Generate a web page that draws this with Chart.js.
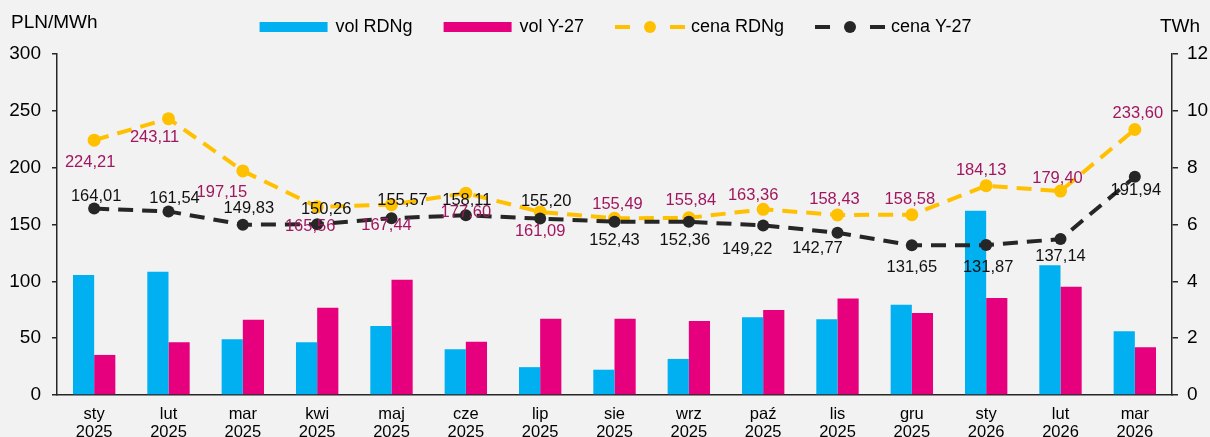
<!DOCTYPE html>
<html>
<head>
<meta charset="utf-8">
<script src="https://cdn.jsdelivr.net/npm/chart.js@4.4.1/dist/chart.umd.min.js"></script>
<style>
  body { margin: 0; background: #f2f2f2; }
  #wrap { width: 1210px; height: 437px; position: relative; }
</style>
</head>
<body>
<div id="wrap"><canvas id="chart"></canvas></div>
<script>
// data
const months = [
  ["sty", "2025"], ["lut", "2025"], ["mar", "2025"], ["kwi", "2025"],
  ["maj", "2025"], ["cze", "2025"], ["lip", "2025"], ["sie", "2025"],
  ["wrz", "2025"], ["paź", "2025"], ["lis", "2025"], ["gru", "2025"],
  ["sty", "2026"], ["lut", "2026"], ["mar", "2026"],
];
const volRDNg = [4.22, 4.34, 1.96, 1.86, 2.43, 1.61, 0.98, 0.89, 1.27, 2.74, 2.67, 3.18, 6.48, 4.57, 2.24];
const volY27 = [1.41, 1.86, 2.65, 3.07, 4.06, 1.87, 2.68, 2.68, 2.6, 2.99, 3.4, 2.89, 3.41, 3.81, 1.68];
const cenaRDNg = [224.21, 243.11, 197.15, 165.56, 167.44, 177.6, 161.09, 155.49, 155.84, 163.36, 158.43, 158.58, 184.13, 179.4, 233.6];
const cenaY27 = [164.01, 161.54, 149.83, 150.26, 155.57, 158.11, 155.2, 152.43, 152.36, 149.22, 142.77, 131.65, 131.87, 137.14, 191.94];
const priceTicks = [0, 50, 100, 150, 200, 250, 300];
const volTicks = [0, 2, 4, 6, 8, 10, 12];

// where each value label sits, relative to its point (dx, dy)
const labelOffRDNg = [
  [-4, 22], [-14, 19], [-21, 22], [-7, 20], [-5, 21], [0, 19], [0, 20],
  [3, -14], [2, -17], [-10, -14], [-3, -15], [-2, -15], [-5, -15], [-3, -13], [3, -16],
];
const labelOffY27 = [
  [2, -12], [6, -13], [6, -16], [9, -15], [11, -18], [1, -15], [6, -17],
  [0, 19], [-4, 19], [-16, 24], [-20, 16], [0, 22], [2, 22], [0, 17], [1, 14],
];

const FONT = "'Liberation Sans', Arial, sans-serif";
const CYAN = "#00b0f0";
const MAGENTA = "#e6007e";
const YELLOW = "#ffc000";
const DARK = "#262626";
const LABEL_MAG = "#a0175f";

const fmt = (v) => v.toFixed(2).replace(".", ",");

// value labels next to the line points
const valueLabels = {
  id: "valueLabels",
  afterDatasetsDraw(chart) {
    const ctx = chart.ctx;
    ctx.save();
    ctx.font = "16.5px " + FONT;
    ctx.textAlign = "center";
    ctx.textBaseline = "middle";
    chart.data.datasets.forEach((ds, i) => {
      if (!ds.labelOffsets) return;
      const meta = chart.getDatasetMeta(i);
      ctx.fillStyle = ds.labelColor;
      meta.data.forEach((pt, j) => {
        const off = ds.labelOffsets[j];
        ctx.fillText(fmt(ds.data[j]), pt.x + off[0], pt.y + off[1]);
      });
    });
    ctx.restore();
  },
};

// legend and unit titles
const extras = {
  id: "extras",
  afterDraw(chart) {
    const ctx = chart.ctx;
    const area = chart.chartArea;
    ctx.save();
    ctx.fillStyle = "#000";
    ctx.textBaseline = "middle";
    ctx.font = "19px " + FONT;
    ctx.textAlign = "left";
    ctx.fillText("PLN/MWh", 11, 23);
    ctx.fillText("TWh", 1160, 27);

    ctx.font = "18px " + FONT;
    const items = [
      { text: "vol RDNg", kind: "bar", color: CYAN },
      { text: "vol Y-27", kind: "bar", color: MAGENTA },
      { text: "cena RDNg", kind: "line", color: YELLOW },
      { text: "cena Y-27", kind: "line", color: DARK },
    ];
    const symW = 69, textGap = 7, itemGap = 31;
    let total = 0;
    items.forEach((it, k) => {
      it.w = ctx.measureText(it.text).width;
      total += symW + textGap + it.w + (k < items.length - 1 ? itemGap : 0);
    });
    let x = (area.left + area.right) / 2 - total / 2 + 1;
    const cy = 27;
    items.forEach((it) => {
      if (it.kind === "bar") {
        ctx.fillStyle = it.color;
        ctx.fillRect(x, cy - 5, 68, 10);
      } else {
        ctx.strokeStyle = it.color;
        ctx.lineWidth = 4;
        ctx.beginPath();
        ctx.moveTo(x, cy); ctx.lineTo(x + 15, cy);
        ctx.moveTo(x + 55, cy); ctx.lineTo(x + 70, cy);
        ctx.stroke();
        ctx.fillStyle = it.color;
        ctx.beginPath();
        ctx.arc(x + 35, cy, 6, 0, Math.PI * 2);
        ctx.fill();
      }
      ctx.fillStyle = "#000";
      ctx.fillText(it.text, x + symW + textGap, cy);
      x += symW + textGap + it.w + itemGap;
    });
    ctx.restore();
  },
};

const ctx = document.getElementById("chart").getContext("2d");
new Chart(ctx, {
  type: "bar",
  data: {
    labels: months,
    datasets: [
      {
        type: "line",
        label: "cena Y-27",
        data: cenaY27,
        yAxisID: "yPrice",
        borderColor: DARK,
        backgroundColor: DARK,
        borderWidth: 4,
        borderDash: [15, 9],
        pointRadius: 6,
        pointBorderWidth: 0,
        tension: 0,
        order: 0,
        labelColor: "#111",
        labelOffsets: labelOffY27,
      },
      {
        type: "line",
        label: "cena RDNg",
        data: cenaRDNg,
        yAxisID: "yPrice",
        borderColor: YELLOW,
        backgroundColor: YELLOW,
        borderWidth: 4,
        borderDash: [15, 9],
        pointRadius: 6.5,
        pointBorderWidth: 0,
        tension: 0,
        order: 1,
        labelColor: LABEL_MAG,
        labelOffsets: labelOffRDNg,
      },
      {
        label: "vol RDNg",
        data: volRDNg,
        yAxisID: "yVol",
        backgroundColor: CYAN,
        categoryPercentage: 0.57,
        barPercentage: 1,
        order: 2,
      },
      {
        label: "vol Y-27",
        data: volY27,
        yAxisID: "yVol",
        backgroundColor: MAGENTA,
        categoryPercentage: 0.57,
        barPercentage: 1,
        order: 2,
      },
    ],
  },
  options: {
    responsive: true,
    maintainAspectRatio: false,
    animation: false,
    layout: { padding: { top: 54, left: 0, right: 0, bottom: 0 } },
    plugins: {
      legend: { display: false },
      tooltip: { enabled: false },
    },
    scales: {
      x: {
        grid: { display: false, drawTicks: false },
        border: { display: true, color: DARK, width: 1.5 },
        ticks: {
          color: "#000",
          padding: 11,
          font: { family: FONT, size: 16.5, lineHeight: 1.05 },
          maxRotation: 0,
          autoSkip: false,
        },
        afterFit: (s) => { s.height = 42; },
      },
      yPrice: {
        position: "left",
        min: 0,
        max: 300,
        afterBuildTicks: (s) => { s.ticks = priceTicks.map((v) => ({ value: v })); },
        grid: { drawOnChartArea: false, drawTicks: true, tickLength: 5, color: DARK, lineWidth: 1.5 },
        border: { display: true, color: DARK, width: 1.5 },
        ticks: { color: "#000", padding: 11, font: { family: FONT, size: 19 } },
        afterFit: (s) => { s.width = 57; },
      },
      yVol: {
        position: "right",
        min: 0,
        max: 12,
        afterBuildTicks: (s) => { s.ticks = volTicks.map((v) => ({ value: v })); },
        grid: { drawOnChartArea: false, drawTicks: true, tickLength: 6, color: DARK, lineWidth: 1.5 },
        border: { display: true, color: DARK, width: 1.5 },
        ticks: { color: "#000", padding: 9, font: { family: FONT, size: 19 } },
        afterFit: (s) => { s.width = 38; },
      },
    },
  },
  plugins: [valueLabels, extras],
});
</script>
</body>
</html>
